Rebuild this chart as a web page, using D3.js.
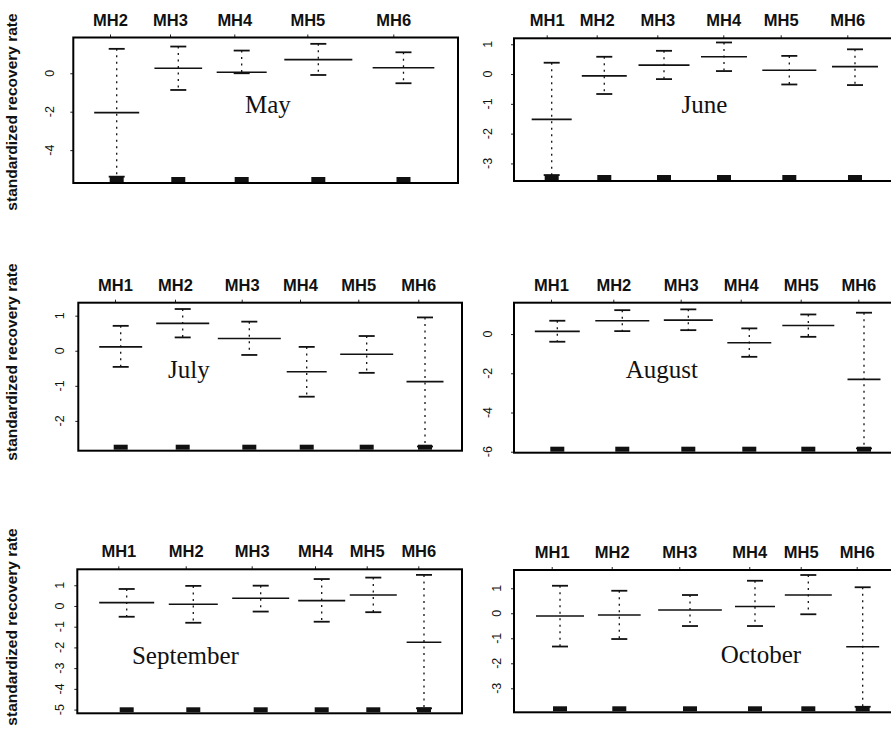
<!DOCTYPE html>
<html><head><meta charset="utf-8">
<script src="https://cdn.jsdelivr.net/npm/d3@7"></script>
<style>
html,body{margin:0;padding:0;background:#fff;}
svg{display:block;}
</style>
</head><body>
<svg id="chart" width="891" height="732"></svg>
<script>
// ---------------- DATA ----------------
const months = ["May", "June", "July", "August", "September", "October"];
const catsMay = ["MH2", "MH3", "MH4", "MH5", "MH6"];
const catsAll = ["MH1", "MH2", "MH3", "MH4", "MH5", "MH6"];
const yLabel = "standardized recovery rate";

// x positions (arbitrary 0-100 units along each panel's horizontal axis)
const mayTick = [9.54, 25.14, 41.85, 60.83, 83.18];
const mayPos  = [11.28, 27.29, 43.77, 63.69, 85.83];
const mayHalf = [5.85, 6.2, 6.5, 8.84, 8.02];
const mayHi   = [1.27, 1.39, 1.18, 1.53, 1.09];
const mayMean = [-2.05, 0.26, 0.05, 0.71, 0.29];
const mayLo   = [-5.38, -0.87, 0.0, -0.09, -0.52];

const junTick = [8.45, 21.37, 37.03, 54.08, 68.91, 86.12];
const junPos  = [9.74, 23.33, 38.76, 54.26, 71.14, 88.11];
const junHalf = [5.17, 5.81, 6.59, 5.94, 6.98, 5.94];
const junHi   = [0.38, 0.58, 0.78, 1.06, 0.61, 0.83];
const junMean = [-1.52, -0.06, 0.30, 0.58, 0.13, 0.25];
const junLo   = [-3.39, -0.67, -0.17, 0.10, -0.35, -0.37];

const julTick = [9.56, 25.2, 42.59, 57.78, 72.97, 88.61];
const julPos  = [11.05, 27.21, 44.57, 59.53, 75.16, 90.36];
const julHalf = [5.6, 6.91, 8.21, 5.21, 6.91, 4.82];
const julHi   = [0.71, 1.19, 0.83, 0.11, 0.42, 0.95];
const julMean = [0.11, 0.78, 0.35, -0.60, -0.10, -0.88];
const julLo   = [-0.46, 0.38, -0.12, -1.31, -0.63, -2.73];

const augTick = [9.56, 25.66, 43.07, 58.58, 74.08, 88.97];
const augPos  = [11.19, 27.98, 45.04, 60.8, 76.05, 90.44];
const augHalf = [5.81, 6.98, 6.33, 5.68, 6.72, 4.26];
const augHi   = [0.68, 1.22, 1.26, 0.29, 1.0, 1.09];
const augMean = [0.14, 0.68, 0.71, -0.44, 0.44, -2.31];
const augLo   = [-0.39, 0.15, 0.20, -1.16, -0.14, -5.83];

const sepTick = [10.66, 28.18, 45.33, 61.79, 75.23, 88.64];
const sepPos  = [12.84, 30.15, 47.67, 63.53, 76.94, 90.12];
const sepHalf = [7.15, 6.37, 7.41, 6.11, 6.11, 4.51];
const sepHi   = [0.82, 0.97, 0.98, 1.30, 1.37, 1.50];
const sepMean = [0.16, 0.08, 0.37, 0.26, 0.53, -1.75];
const sepLo   = [-0.52, -0.81, -0.27, -0.76, -0.30, -4.94];

const octTick = [9.74, 25.25, 42.71, 60.8, 74.08, 88.55];
const octPos  = [11.89, 27.21, 45.48, 62.27, 76.05, 90.1];
const octHalf = [6.2, 5.52, 8.23, 5.17, 6.07, 4.26];
const octHi   = [1.10, 0.90, 0.73, 1.30, 1.53, 1.04];
const octMean = [-0.11, -0.07, 0.13, 0.27, 0.73, -1.34];
const octLo   = [-1.33, -1.03, -0.51, -0.51, -0.04, -3.74];

// y-axis ranges and tick values
const yDomains = [[-5.71, 1.86], [-3.59, 1.2], [-2.85, 1.37], [-6.05, 1.6], [-5.18, 1.77], [-3.96, 1.73]];
const yTicks = [[0, -2, -4], [1, 0, -1, -2, -3], [1, 0, -1, -2], [0, -2, -4, -6], [1, 0, -1, -2, -3, -4, -5], [1, 0, -1, -2, -3]];
// month label anchor in data coordinates [x, y]
const monthAt = [[50.6, -2.07], [49.2, -1.32], [28.8, -0.79], [38.2, -2.26], [28.1, -2.8], [63.8, -2.0]];

// ---------------- LAYOUT ----------------
const layout = [
  {left: 73.3, right: 458, top: 37.5, bottom: 183, labX: 50},
  {left: 514, right: 901, top: 38.3, bottom: 181, labX: 488},
  {left: 78.3, right: 462, top: 302.7, bottom: 450.7, labX: 60},
  {left: 514, right: 901, top: 302.7, bottom: 452.7, labX: 488},
  {left: 77.3, right: 462, top: 569.3, bottom: 713.3, labX: 60},
  {left: 514, right: 901, top: 570, bottom: 712.3, labX: 497}
];
const rowLabelY = [112, 362, 627];

const panels = [
  {cats: catsMay, tick: mayTick, pos: mayPos, half: mayHalf, hi: mayHi, mean: mayMean, lo: mayLo},
  {cats: catsAll, tick: junTick, pos: junPos, half: junHalf, hi: junHi, mean: junMean, lo: junLo},
  {cats: catsAll, tick: julTick, pos: julPos, half: julHalf, hi: julHi, mean: julMean, lo: julLo},
  {cats: catsAll, tick: augTick, pos: augPos, half: augHalf, hi: augHi, mean: augMean, lo: augLo},
  {cats: catsAll, tick: sepTick, pos: sepPos, half: sepHalf, hi: sepHi, mean: sepMean, lo: sepLo},
  {cats: catsAll, tick: octTick, pos: octPos, half: octHalf, hi: octHi, mean: octMean, lo: octLo}
];

const svg = d3.select("#chart");
const sans = "'Liberation Sans', Arial, Helvetica, sans-serif";
const serif = "'Liberation Serif', 'Times New Roman', serif";

// row y-labels
rowLabelY.forEach(cy => {
  svg.append("text")
    .attr("transform", `translate(11,${cy}) rotate(-90)`)
    .attr("text-anchor", "middle")
    .attr("dominant-baseline", "central")
    .attr("font-family", sans)
    .attr("font-weight", "bold")
    .attr("font-size", 15.5)
    .attr("fill", "#111")
    .text(yLabel);
});

panels.forEach((p, i) => {
  const L = layout[i];
  const x = d3.scaleLinear().domain([0, 100]).range([L.left, L.right]);
  const y = d3.scaleLinear().domain(yDomains[i]).range([L.bottom, L.top]);
  const g = svg.append("g");

  // top axis with category labels
  const xAxis = d3.axisTop(x)
    .tickValues(p.tick)
    .tickFormat((d, k) => p.cats[k])
    .tickSize(3).tickSizeOuter(0).tickPadding(9);
  const ax = g.append("g").attr("transform", `translate(0,${L.top})`).call(xAxis);
  ax.select(".domain").remove();
  ax.selectAll("line").attr("stroke", "#222").attr("stroke-width", 1);
  ax.selectAll("text")
    .attr("font-family", sans).attr("font-weight", "bold")
    .attr("font-size", 16.5).attr("fill", "#111");

  // left axis
  const yAxis = d3.axisLeft(y).tickValues(yTicks[i]).tickSize(3).tickSizeOuter(0).tickFormat(d3.format("d"));
  const ay = g.append("g").attr("transform", `translate(${L.left},0)`).call(yAxis);
  ay.select(".domain").remove();
  ay.selectAll("line").attr("stroke", "#222");
  ay.selectAll("text").remove();
  yTicks[i].forEach(t => {
    g.append("text")
      .attr("transform", `translate(${L.labX},${y(t)}) rotate(-90)`)
      .attr("text-anchor", "middle")
      .attr("dominant-baseline", "central")
      .attr("font-family", sans)
      .attr("font-size", 12.5)
      .attr("fill", "#111")
      .text(d3.format("d")(t).replace("−", "-"));
  });

  // frame
  g.append("rect")
    .attr("x", x(0)).attr("y", y(yDomains[i][1]))
    .attr("width", x(100) - x(0)).attr("height", y(yDomains[i][0]) - y(yDomains[i][1]))
    .attr("fill", "none").attr("stroke", "#000").attr("stroke-width", 2);

  const idx = d3.range(p.cats.length);

  // rug clusters at bottom
  g.selectAll(".rug").data(idx).join("rect")
    .attr("x", k => x(p.pos[k]) - 7)
    .attr("y", y(yDomains[i][0]) - 6)
    .attr("width", 14).attr("height", 5)
    .attr("fill", "#111");

  // dotted whisker
  g.selectAll(".wh").data(idx).join("line")
    .attr("x1", k => x(p.pos[k])).attr("x2", k => x(p.pos[k]))
    .attr("y1", k => y(p.hi[k])).attr("y2", k => y(p.lo[k]))
    .attr("stroke", "#111").attr("stroke-width", 1.3)
    .attr("stroke-dasharray", "2,4.5");

  // caps
  ["hi", "lo"].forEach(key => {
    g.selectAll(".cap" + key).data(idx).join("line")
      .attr("x1", k => x(p.pos[k]) - 8).attr("x2", k => x(p.pos[k]) + 8)
      .attr("y1", k => y(p[key][k])).attr("y2", k => y(p[key][k]))
      .attr("stroke", "#111").attr("stroke-width", 1.8);
  });

  // mean lines
  g.selectAll(".mean").data(idx).join("line")
    .attr("x1", k => x(p.pos[k] - p.half[k])).attr("x2", k => x(p.pos[k] + p.half[k]))
    .attr("y1", k => y(p.mean[k])).attr("y2", k => y(p.mean[k]))
    .attr("stroke", "#111").attr("stroke-width", 1.6);

  // month label
  g.append("text")
    .attr("x", x(monthAt[i][0])).attr("y", y(monthAt[i][1]))
    .attr("text-anchor", "middle")
    .attr("font-family", serif)
    .attr("font-size", 25)
    .attr("fill", "#111")
    .text(months[i]);
});
</script>
</body></html>
